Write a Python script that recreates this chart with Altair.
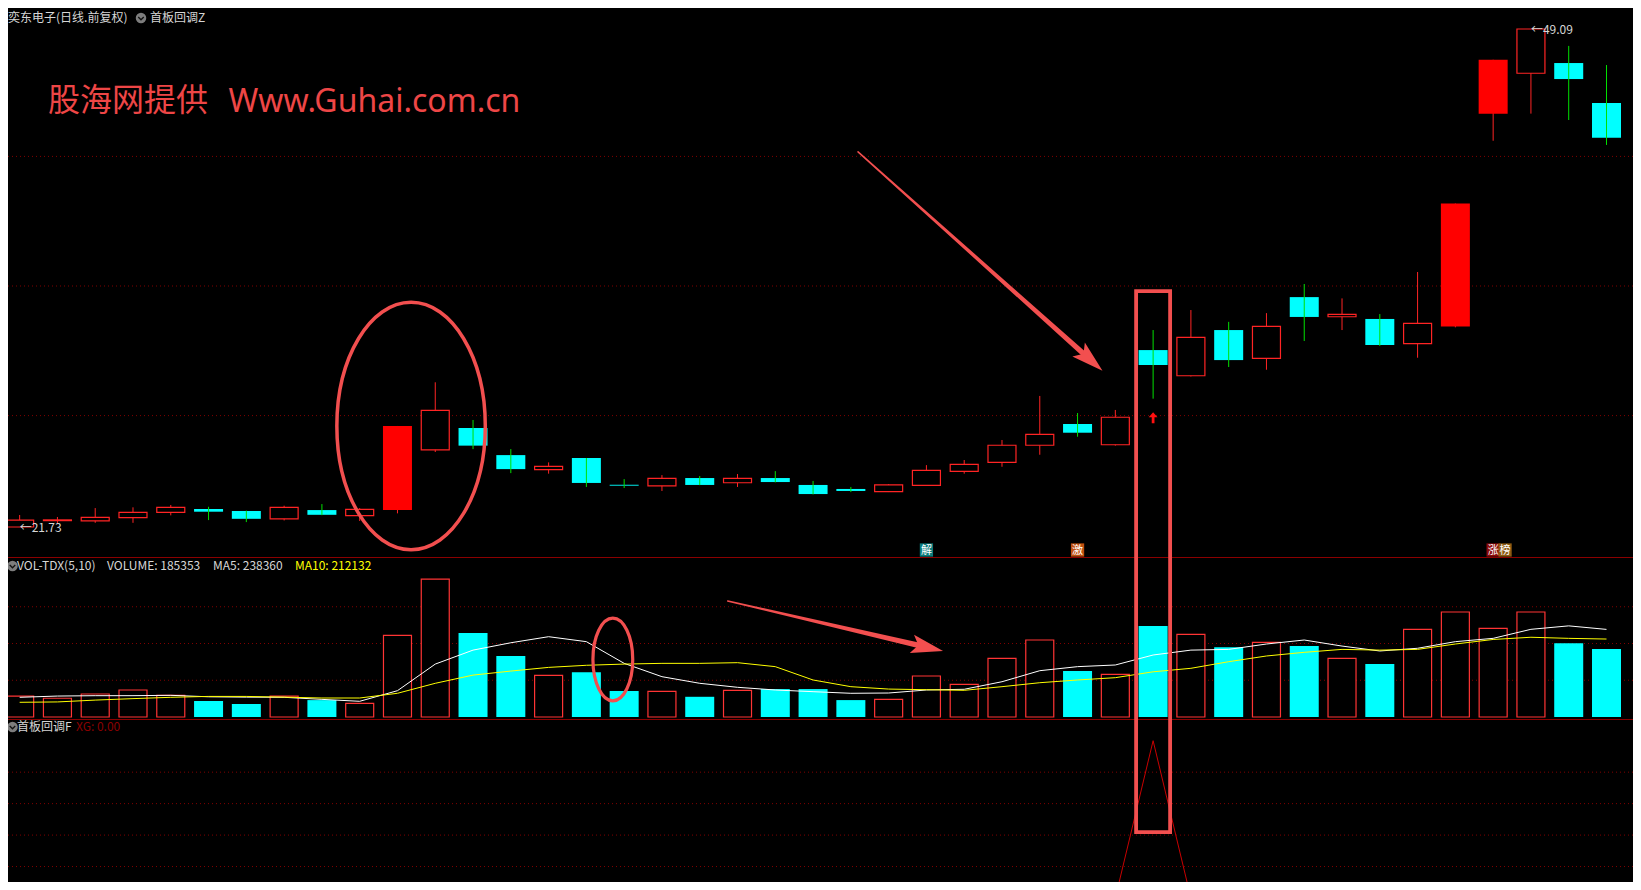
import altair as alt
import pandas as pd

# ---------------- data ----------------
days = list(range(43))
open_ = [21.73, 22.08, 22.07, 22.24, 22.53, 22.72, 22.61, 22.18, 22.66, 22.36,
         22.66, 25.97, 27.17, 25.68, 24.88, 25.52, 24.05, 23.99, 24.42, 24.16,
         24.42, 24.04, 23.82, 23.67, 24.02, 24.79, 25.28, 26.22, 27.39, 26.25,
         31.45, 30.04, 32.55, 30.99, 34.36, 33.28, 33.16, 31.80, 32.75, 44.44,
         46.66, 47.22, 45.02]
high = [22.39, 22.28, 22.77, 22.81, 22.94, 22.84, 22.63, 22.90, 22.99, 22.77,
        27.28, 29.68, 27.61, 26.01, 25.28, 25.52, 24.36, 24.58, 24.53, 24.64,
        24.80, 24.26, 23.93, 24.09, 25.13, 25.41, 26.51, 28.93, 27.99, 28.16,
        32.55, 33.65, 33.00, 33.48, 35.08, 34.29, 33.43, 35.74, 39.50, 47.40,
        49.09, 48.16, 47.11]
low = [21.73, 21.95, 21.96, 21.96, 22.37, 22.11, 22.00, 22.09, 22.38, 22.06,
       22.48, 25.85, 26.01, 24.69, 24.66, 23.93, 23.87, 23.71, 24.03, 23.93,
       24.18, 23.52, 23.65, 23.65, 24.00, 24.66, 25.04, 25.70, 26.69, 26.20,
       28.78, 30.00, 30.52, 30.37, 31.95, 32.55, 31.68, 31.03, 32.70, 42.95,
       44.44, 44.09, 42.72]
close = [22.11, 22.12, 22.26, 22.53, 22.81, 22.57, 22.18, 22.81, 22.40, 22.70,
         27.28, 28.14, 26.20, 24.91, 25.06, 24.15, 24.00, 24.40, 24.04, 24.40,
         24.20, 23.54, 23.71, 24.04, 24.84, 25.17, 26.22, 26.82, 26.91, 27.76,
         30.63, 32.15, 30.90, 32.75, 33.27, 33.41, 31.73, 32.92, 39.50, 47.40,
         49.09, 46.34, 43.12]
volume = [57000, 51000, 62600, 73500, 59000, 43500, 35400, 57000, 46000, 37000,
          222000, 375000, 228600, 166000, 113000, 122000, 70700, 70000, 55000, 72600,
          76000, 76000, 46000, 48000, 111600, 89000, 159600, 209500, 125000, 116000,
          247600, 225000, 189600, 203000, 193000, 159600, 144000, 238600, 285700, 241000,
          285700, 201000, 185353]
ma5 = [53600, 57000, 58000, 58000, 59000, 55000, 54000, 53600, 48000, 42700,
       71600, 144000, 182000, 202000, 218500, 205000, 146000, 109700, 91700, 80800,
       73500, 68900, 64500, 65300, 73500, 75400, 96000, 126000, 137000, 141500,
       168700, 182000, 184000, 198600, 209500, 193000, 179600, 187000, 205000, 214000,
       238600, 248000, 238360]
ma10 = [40000, 41000, 46000, 50000, 53600, 56000, 56000, 54000, 51700, 51700,
        64500, 91700, 114000, 125000, 135000, 140700, 144000, 146000, 146000, 147800,
        137000, 100700, 82500, 76000, 74300, 72600, 82500, 93300, 100700, 107000,
        123000, 132500, 150500, 166000, 176000, 184000, 182000, 184000, 198600, 211000,
        217000, 214000, 212132]
xg = [0, 0, 0, 0, 0, 0, 0, 0, 0, 0,
      0, 0, 0, 0, 0, 0, 0, 0, 0, 0,
      0, 0, 0, 0, 0, 0, 0, 0, 0, 0,
      1, 0, 0, 0, 0, 0, 0, 0, 0, 0,
      0, 0, 0]
limit_up_days = [10, 38, 39]

price_grid = [27.85, 34.97, 42.09]
volume_grid = [100000, 200000, 300000]
xg_grid = [0.2, 0.4, 0.6, 0.8]

price_label_days = [0, 40]
price_label_values = [21.73, 49.09]

tag_chars = ["解", "激", "涨", "榜"]
tag_days = [24, 28, 39, 39]
tag_slots = [0, 0, 0, 1]
tag_colors = ["#0b7b7b", "#c0500f", "#8b0a0a", "#8c5a12"]

signal_day = 30
signal_marker_price = 27.73

# annotations (in data units)
ellipse_days = [10.36]
ellipse_prices = [27.28]
vol_ellipse_days = [15.70]
vol_ellipse_values = [156500]
arrow1_tail = (22.19, 42.34)
arrow1_tip = (28.66, 30.32)
arrow2_tail = (18.74, 315600)
arrow2_tip = (24.44, 179600)
highlight_day = 30
highlight_top_price = 34.69
highlight_bottom_price = 4.97

# ---------------- styles ----------------
RED = "#ff2424"
RED_FILL = "#ff0000"
VOL_RED = "#ff3434"
CYAN = "#00ffff"
GREEN = "#00e000"
GRID = "#800000"
ANNO = "#f24f4f"
TXT = "#d6d6d6"
CJK = "Noto Sans CJK SC"
W, H = 1625, 874

X = alt.Scale(domain=[0, 42], range=[6.65, 1603.5], zero=False, nice=False)
PRICE = alt.Scale(domain=[21.73, 49.09], range=[519, 21], zero=False, nice=False)
VOL = alt.Scale(domain=[0, 300000], range=[709, 598.75], zero=False, nice=False)
XGS = alt.Scale(domain=[0, 1], range=[890, 732.7], zero=False, nice=False)

df = pd.DataFrame({"day": days, "open": open_, "high": high, "low": low,
                   "close": close, "volume": volume, "ma5": ma5, "ma10": ma10, "xg": xg})
kind = []
for d, o, c in zip(days, open_, close):
    if d in limit_up_days:
        kind.append("limit")
    elif c >= o:
        kind.append("up")
    else:
        kind.append("down")
df["kind"] = kind
df_up = df[df.kind == "up"]
df_limit = df[df.kind == "limit"]
df_rise = df[df.kind != "down"]
df_down = df[df.kind == "down"]
one = pd.DataFrame({"k": [0]})

xd = alt.X("day:Q", scale=X, axis=None)


def py(field):
    return alt.Y(field, scale=PRICE, axis=None)


def vy(field):
    return alt.Y(field, scale=VOL, axis=None)


def ptext(txt, x, y, color=TXT, size=12, font=CJK, baseline="middle", weight="normal"):
    return alt.Chart(one).mark_text(text=txt, color=color, fontSize=size, font=font,
                                    align="left", baseline=baseline, fontWeight=weight).encode(
        x=alt.value(x), y=alt.value(y))


def icon(x, y):
    c = alt.Chart(one).mark_circle(size=110, color="#7d7d7d", opacity=1).encode(
        x=alt.value(x), y=alt.value(y))
    ch = alt.Chart(one).mark_point(shape="M-0.55,-0.2L0,0.35L0.55,-0.2", filled=False,
                                   stroke="#111111", strokeWidth=1.3, size=100, opacity=1).encode(
        x=alt.value(x), y=alt.value(y))
    return [c, ch]


def ellipse_path(a):
    k = 0.5523
    ka = round(k * a, 4)
    return (f"M{a},0C{a},{k},{ka},1,0,1C{-ka},1,{-a},{k},{-a},0"
            f"C{-a},{-k},{-ka},-1,0,-1C{ka},-1,{a},{-k},{a},0Z")


HEAD = "M0,0L0.5,1.7L0,1.35L-0.5,1.7Z"
UP_ARROW = "M0,-1L0.8,-0.1L0.25,-0.1L0.25,1L-0.25,1L-0.25,-0.1L-0.8,-0.1Z"

layers = []

# grid lines and panel separators
layers.append(alt.Chart(pd.DataFrame({"p": price_grid})).mark_rule(
    color=GRID, strokeDash=[1, 3], strokeWidth=1).encode(
    y=py("p:Q"), x=alt.value(0), x2=alt.value(W)))
layers.append(alt.Chart(pd.DataFrame({"v": volume_grid})).mark_rule(
    color=GRID, strokeDash=[1, 3], strokeWidth=1).encode(
    y=vy("v:Q"), x=alt.value(0), x2=alt.value(W)))
layers.append(alt.Chart(pd.DataFrame({"g": xg_grid})).mark_rule(
    color=GRID, strokeDash=[1, 3], strokeWidth=1).encode(
    y=alt.Y("g:Q", scale=XGS, axis=None), x=alt.value(0), x2=alt.value(W)))
for sep in [549.5, 711.5]:
    layers.append(alt.Chart(one).mark_rule(color="#8b0000", strokeWidth=1.2).encode(
        y=alt.value(sep), x=alt.value(0), x2=alt.value(W)))

# candles
layers.append(alt.Chart(df_rise).mark_rule(color=RED, strokeWidth=1).encode(
    x=xd, y=py("high:Q"), y2="low:Q"))
layers.append(alt.Chart(df_up).mark_bar(fill="#000000", stroke=RED, strokeWidth=1.2, size=28).encode(
    x=xd, y=py("open:Q"), y2="close:Q"))
layers.append(alt.Chart(df_limit).mark_bar(color=RED_FILL, size=29).encode(
    x=xd, y=py("open:Q"), y2="close:Q"))
layers.append(alt.Chart(df_down).mark_bar(color=CYAN, size=29).encode(
    x=xd, y=py("open:Q"), y2="close:Q"))
layers.append(alt.Chart(df_down).mark_rule(color=GREEN, strokeWidth=1).encode(
    x=xd, y=py("high:Q"), y2="low:Q"))

# price labels
pl = pd.DataFrame({"day": price_label_days, "p": price_label_values})
pl["t"] = ["\u2190" + f"{v:.2f}" for v in price_label_values]
layers.append(alt.Chart(pl).mark_text(color=TXT, fontSize=12, font=CJK, align="left",
                                      baseline="middle", dy=1).encode(
    x=xd, y=py("p:Q"), text="t:N"))

# signal arrow under the highlighted day
sig = pd.DataFrame({"day": [signal_day], "p": [signal_marker_price]})
layers.append(alt.Chart(sig).mark_point(shape=UP_ARROW, filled=True, color="#ff1010",
                                        size=121, opacity=1).encode(x=xd, y=py("p:Q")))

# volume bars and averages
layers.append(alt.Chart(df_rise).mark_bar(fill="#000000", stroke=VOL_RED, strokeWidth=1.2, size=28).encode(
    x=xd, y=vy("volume:Q")))
layers.append(alt.Chart(df_down).mark_bar(color=CYAN, size=29).encode(
    x=xd, y=vy("volume:Q")))
layers.append(alt.Chart(df).mark_line(color="#ffffff", strokeWidth=1).encode(x=xd, y=vy("ma5:Q")))
layers.append(alt.Chart(df).mark_line(color="#ffff00", strokeWidth=1).encode(x=xd, y=vy("ma10:Q")))

# indicator
layers.append(alt.Chart(df).mark_line(color="#c80000", strokeWidth=1).encode(
    x=xd, y=alt.Y("xg:Q", scale=XGS, axis=None)))

# tags at the bottom of the price panel
tags = pd.DataFrame({"c": tag_chars, "day": tag_days, "slot": tag_slots, "bg": tag_colors})
tags["pos"] = tags["day"] + tags["slot"] * 12 / 38.02
xt = alt.X("pos:Q", scale=X, axis=None)
layers.append(alt.Chart(tags).mark_square(size=176, opacity=1).encode(
    x=xt, y=alt.value(542), color=alt.Color("bg:N", scale=None)))
layers.append(alt.Chart(tags).mark_text(color="#ffffff", fontSize=11, font=CJK, align="center",
                                        baseline="middle").encode(
    x=xt, y=alt.value(542.5), text="c:N"))

# headers
layers.append(ptext("奕东电子(日线.前复权)", 0, 10))
layers += icon(133, 10)
layers.append(ptext("首板回调Z", 142, 10))
layers += icon(4.5, 558)
layers.append(ptext("VOL-TDX(5,10)", 9, 558))
layers.append(ptext(f"VOLUME: {volume[-1]}", 99, 558))
layers.append(ptext(f"MA5: {ma5[-1]}", 205, 558))
layers.append(ptext(f"MA10: {ma10[-1]}", 287, 558, color="#ffff00"))
layers += icon(4.5, 719)
layers.append(ptext("首板回调F", 9, 719))
layers.append(ptext(f"XG: {xg[-1]:.2f}", 68, 719, color="#8b0000"))

# watermark
layers.append(ptext("股海网提供", 40, 103, color="#ee4646", size=32, baseline="alphabetic"))
layers.append(ptext("Www.Guhai.com.cn", 220.6, 104, color="#ee4646", size=32,
                    font="Noto Sans", baseline="alphabetic"))

# annotations
layers.append(alt.Chart(pd.DataFrame({"day": ellipse_days, "p": ellipse_prices})).mark_point(
    shape=ellipse_path(0.6), filled=False, stroke=ANNO, strokeWidth=3.5, size=61206, opacity=1).encode(
    x=xd, y=py("p:Q")))
layers.append(alt.Chart(pd.DataFrame({"day": vol_ellipse_days, "v": vol_ellipse_values})).mark_point(
    shape=ellipse_path(0.482), filled=False, stroke=ANNO, strokeWidth=3.2, size=6823, opacity=1).encode(
    x=xd, y=vy("v:Q")))


def shaft(tail, tip, t):
    end = (tail[0] + (tip[0] - tail[0]) * t, tail[1] + (tip[1] - tail[1]) * t)
    return pd.DataFrame({"day": [tail[0], end[0]], "val": [tail[1], end[1]], "w": [1.5, 5.5]})


layers.append(alt.Chart(shaft(arrow1_tail, arrow1_tip, 0.94)).mark_trail(color=ANNO).encode(
    x=xd, y=py("val:Q"), size=alt.Size("w:Q", scale=None, legend=None)))
layers.append(alt.Chart(pd.DataFrame({"day": [arrow1_tip[0]], "val": [arrow1_tip[1]]})).mark_point(
    shape=HEAD, filled=True, color=ANNO, size=1414, angle=131.64, opacity=1).encode(
    x=xd, y=py("val:Q")))
layers.append(alt.Chart(shaft(arrow2_tail, arrow2_tip, 0.91)).mark_trail(color=ANNO).encode(
    x=xd, y=vy("val:Q"), size=alt.Size("w:Q", scale=None, legend=None)))
layers.append(alt.Chart(pd.DataFrame({"day": [arrow2_tip[0]], "val": [arrow2_tip[1]]})).mark_point(
    shape=HEAD, filled=True, color=ANNO, size=1414, angle=103.0, opacity=1).encode(
    x=xd, y=vy("val:Q")))

hl = pd.DataFrame({"a": [highlight_day - 0.45], "b": [highlight_day + 0.45],
                   "top": [highlight_top_price], "bot": [highlight_bottom_price]})
layers.append(alt.Chart(hl).mark_rect(fillOpacity=0, stroke=ANNO, strokeWidth=3.8).encode(
    x=alt.X("a:Q", scale=X, axis=None), x2="b:Q", y=py("top:Q"), y2="bot:Q"))

chart = alt.layer(*layers).resolve_scale(y="independent").properties(
    width=W, height=H, background="#000000", padding=0,
    autosize=alt.AutoSizeParams(type="none")
).configure_view(stroke=None)

chart.save("out.html", embed_options={"renderer": "svg", "actions": False})
